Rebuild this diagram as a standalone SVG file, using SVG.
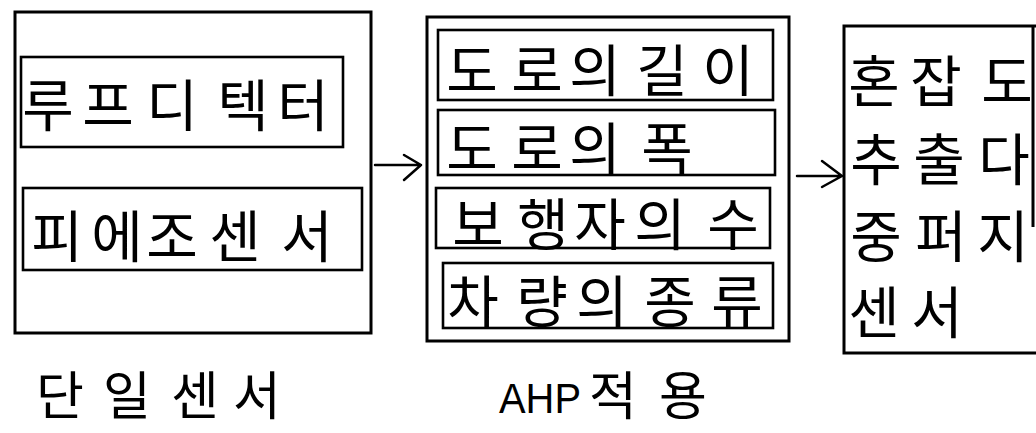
<svg xmlns="http://www.w3.org/2000/svg" width="1036" height="433" viewBox="0 0 1036 433">
<style>
.box{fill:none;stroke:#000;stroke-width:3}
.ibox{fill:none;stroke:#000;stroke-width:2.6}
.t{font-family:"Noto Sans CJK KR","Noto Sans",sans-serif;font-size:56px;fill:#000;text-anchor:middle;dominant-baseline:central}
.lbl{font-family:"Noto Sans CJK KR","Noto Sans",sans-serif;font-size:52px;fill:#000;text-anchor:middle}
.lat{font-family:"Liberation Sans",Arial,sans-serif;font-size:42px;fill:#000}
.conn{fill:none;stroke:#000;stroke-width:2.5;stroke-linecap:round;stroke-linejoin:round}
</style>
<rect width="1036" height="433" fill="#fff"/>
<g id="single-sensor">
  <rect class="box" x="15" y="12" width="356" height="321"/>
  <g id="loop-detector">
    <rect class="ibox" x="21" y="57" width="322" height="90"/>
    <text class="t" x="48 108 172 243 303" y="101">루프디텍터</text>
  </g>
  <g id="piezo-sensor">
    <rect class="ibox" x="23" y="188" width="339" height="82"/>
    <text class="t" x="57 117 172 235 307" y="232">피에조센서</text>
  </g>
</g>
<g id="label-single">
  <text class="lbl" x="60" y="415">단</text>
  <text class="lbl" x="127" y="415">일</text>
  <text class="lbl" x="195" y="415">센</text>
  <text class="lbl" x="257" y="415">서</text>
</g>
<g id="ahp">
  <rect class="box" x="427" y="17" width="362" height="324"/>
  <g id="road-length">
    <rect class="ibox" x="438" y="30" width="335" height="70"/>
    <text class="t" x="472 537 595 662 728" y="66">도로의길이</text>
  </g>
  <g id="road-width">
    <rect class="ibox" x="438" y="110" width="337" height="65"/>
    <text class="t" x="472 537 595 667" y="144">도로의폭</text>
  </g>
  <g id="pedestrians">
    <rect class="ibox" x="436" y="188" width="334" height="60"/>
    <text class="t" x="478 543 600 660 733" y="220">보행자의수</text>
  </g>
  <g id="vehicle-type">
    <rect class="ibox" x="443" y="263" width="330" height="65"/>
    <text class="t" x="473 542 602 670 737" y="297">차량의종류</text>
  </g>
</g>
<g id="label-ahp">
  <text class="lat" x="499" y="413" textLength="82" lengthAdjust="spacingAndGlyphs">AHP</text>
  <text class="lbl" x="613" y="415">적</text>
  <text class="lbl" x="683" y="415">용</text>
</g>
<g id="fuzzy-sensor">
  <path class="box" d="M1036 26 H844 V353 H1036 M1033 26 V227"/>
  <text class="t" x="874 936 1007" y="77">혼잡도</text>
  <text class="t" x="876 939 1004" y="155">추출다</text>
  <text class="t" x="876 941 1003" y="232">중퍼지</text>
  <text class="t" x="874 937" y="308">센서</text>
</g>
<g id="connectors">
  <path class="conn" d="M375 165 H421 M404 155 L421 165 L404 180"/>
  <path class="conn" d="M797 176 H842 M822 161 L842 176 L822 187"/>
</g>
</svg>
